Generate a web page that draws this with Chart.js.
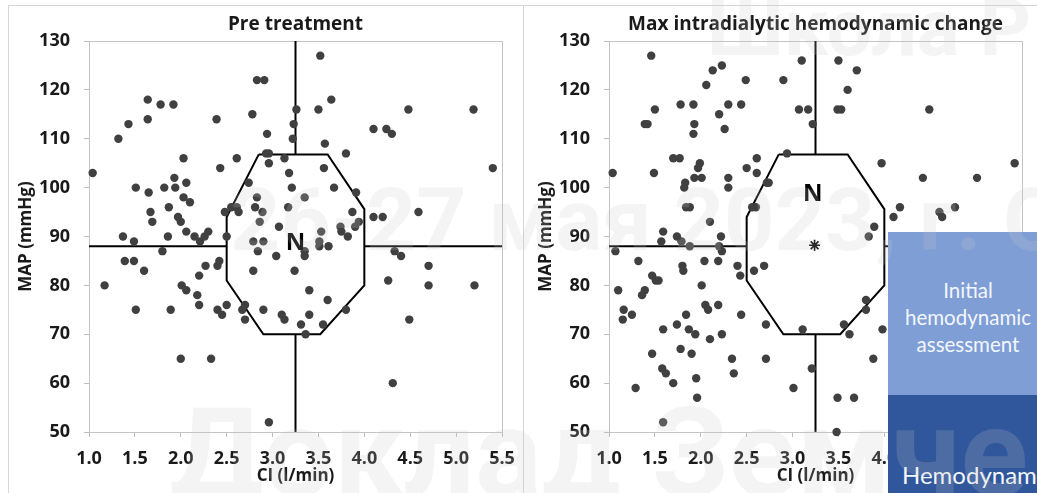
<!DOCTYPE html>
<html>
<head>
<meta charset="utf-8">
<script src="https://cdn.jsdelivr.net/npm/chart.js@4.4.1/dist/chart.umd.min.js"></script>
<style>
  body { margin: 0; width: 1037px; height: 493px; overflow: hidden; position: relative; background: #fff; }
  canvas { position: absolute; top: 0; }
  .frame { position: absolute; border: 1px solid #d6d6d6; }
  .box { position: absolute; left: 888px; width: 160px; color: #f3f6fb; font-family: Lato, sans-serif; text-align: center; }
  .mark { position: absolute; font-family: Roboto, sans-serif; font-weight: 700; line-height: 1; white-space: nowrap; color: rgba(200, 200, 200, 0.2); pointer-events: none; }
</style>
</head>
<body>
<div class="frame" style="left:8px; top:5px; width:514px; height:600px;"></div>
<div class="frame" style="left:523px; top:5px; width:600px; height:600px; border-left:none;"></div>
<canvas id="pre" width="520" height="493" style="left:0"></canvas>
<canvas id="max" width="520" height="493" style="left:520px"></canvas>

<div class="box" style="top:232px; height:163px; background:#7f9ed6;">
  <div style="font-size:20.5px; line-height:27px; padding-top:45px;">Initial<br>hemodynamic<br>assessment</div>
</div>
<div class="box" style="top:395px; height:120px; background:#30569b; text-align:left;">
  <div style="font-size:24px; line-height:27px; padding-top:66px; padding-left:14px; white-space:nowrap;">Hemodynamic</div>
</div>

<div class="mark" style="left:707px; top:-12px; font-size:80px;">Школа Р</div>
<div class="mark" style="left:230px; top:176px; font-size:88px;">26-27 мая 2023, г. С</div>
<div class="mark" style="left:170px; top:391px; font-size:125px;">Доклад Земче</div>

<script>
// axis ticks
const xTickValues = [1.0, 1.5, 2.0, 2.5, 3.0, 3.5, 4.0, 4.5, 5.0, 5.5];
const yTickValues = [50, 60, 70, 80, 90, 100, 110, 120, 130];

// pre treatment: CI (l/min) and MAP (mmHg)
const preCI = [
  1.04, 1.32, 1.43, 1.64, 1.64, 1.78, 1.92, 1.51, 1.65, 1.67, 1.69, 1.37, 1.49, 1.82, 1.94, 1.93,
  2.03, 2.06, 2.03, 2.10, 1.87, 1.97, 2.00, 1.86, 2.06, 2.15, 2.21, 2.26, 2.30, 2.39, 2.43, 2.48,
  2.55, 2.61, 2.63, 2.50, 2.61, 2.74, 2.78, 2.83, 2.91, 2.94, 2.93, 2.96, 2.96, 2.83, 2.81, 2.89,
  2.86, 3.07, 3.13, 3.18, 3.21, 3.17, 3.23, 3.22, 3.26, 3.50, 3.52, 3.64, 3.57, 3.56, 3.35, 3.67,
  3.80, 3.91, 3.87, 3.94, 3.90, 3.74, 3.82, 3.53, 3.75, 3.51, 3.61, 3.51, 4.10, 4.24, 4.30, 4.10,
  4.20, 4.48, 4.59, 5.19, 5.40, 2.79, 2.90, 2.84, 1.80,
  1.17, 1.39, 1.49, 1.60, 1.51, 1.89, 2.01, 2.06, 2.18, 2.20, 2.20, 2.27, 2.40, 2.42, 2.40, 2.45,
  2.50, 2.00, 2.33, 2.67, 2.70, 2.70, 2.79, 2.90, 3.04, 3.24, 3.10, 3.13, 3.31, 3.36, 3.40, 3.40,
  3.35, 3.35, 3.55, 3.60, 3.80, 4.33, 4.40, 4.26, 4.49, 4.70, 4.70, 5.20, 4.31, 2.96
];
const preMAP = [
  103, 110, 113, 118, 114, 117, 117, 100, 99, 95, 93, 90, 89, 100, 100, 102,
  106, 101, 98, 97, 96, 94, 93, 90, 91, 90, 89, 90, 91, 114, 104, 95,
  96, 96, 95, 90, 106, 101, 115, 122, 122, 111, 107, 107, 105, 98, 96, 95,
  93, 92, 106, 103, 100, 96, 113, 110, 116, 116, 127, 118, 109, 104, 98, 100,
  107, 99, 95, 93, 92, 92, 90, 91, 91, 89, 88, 88, 112, 112, 111, 94,
  94, 116, 95, 116, 104, 89, 89, 87, 87,
  80, 85, 85, 83, 75, 75, 80, 79, 78, 82, 76, 84, 84, 85, 75, 74,
  76, 65, 65, 75, 76, 73, 83, 75, 86, 83, 74, 73, 72, 70, 74, 79,
  87, 86, 72, 77, 75, 87, 86, 81, 73, 84, 80, 80, 60, 52
];

// max intradialytic hemodynamic change
const maxCI = [
  1.04, 1.46, 2.13, 2.23, 2.06, 2.49, 2.90, 3.10, 1.50, 1.39, 1.42, 1.78, 1.92, 1.93, 1.92, 2.20,
  2.26, 2.30, 2.44, 3.07, 3.17, 3.22, 2.94, 1.49, 1.70, 1.77, 1.99, 1.97, 1.93, 2.01, 1.83, 1.82,
  2.30, 2.30, 2.50, 2.61, 2.61, 2.72, 2.74, 1.84, 1.88, 2.56, 2.60, 2.10, 1.59, 1.57, 1.74, 1.79,
  1.88, 2.22, 2.20, 2.23, 1.07, 3.50, 3.70, 3.60, 3.49, 3.53, 4.49, 3.97, 5.42, 4.42, 5.01, 4.17,
  4.10, 4.60, 4.63, 4.77, 3.89, 3.83,
  1.32, 1.10, 1.16, 1.15, 1.25, 1.29, 1.39, 1.36, 1.47, 1.51, 1.54, 1.47, 1.59, 1.58, 1.62, 1.70,
  1.59, 1.74, 1.78, 1.80, 1.81, 1.84, 1.87, 1.94, 1.90, 1.95, 1.96, 2.01, 2.04, 2.19, 2.05, 2.08,
  2.10, 2.19, 2.23, 2.34, 2.36, 2.40, 2.43, 2.44, 2.58, 2.69, 2.71, 2.71, 3.01, 3.11, 3.21, 3.80,
  3.80, 3.56, 3.62, 3.88, 3.49, 3.67, 3.48, 3.98
];
const maxMAP = [
  103, 127, 124, 125, 121, 122, 122, 126, 116, 113, 113, 117, 117, 113, 111, 115,
  112, 117, 117, 116, 116, 113, 107, 103, 106, 106, 105, 104, 102, 102, 101, 100,
  102, 100, 104, 106, 103, 101, 101, 96, 96, 96, 96, 93, 91, 89, 90, 89,
  88, 90, 88, 87, 87, 126, 124, 120, 116, 116, 116, 105, 105, 102, 102, 96,
  94, 95, 94, 96, 92, 90,
  85, 79, 75, 73, 74, 59, 79, 78, 82, 81, 81, 66, 71, 63, 62, 60,
  52, 72, 67, 84, 83, 74, 71, 70, 66, 61, 57, 80, 85, 85, 76, 75,
  69, 76, 70, 65, 62, 84, 82, 74, 83, 84, 72, 65, 59, 71, 63, 77,
  75, 72, 70, 65, 57, 57, 50, 71
];

// normal zone (octagon) and the dividing cross
const zoneCI = [2.85, 3.6, 4.0, 4.0, 3.52, 2.9, 2.5, 2.5, 2.85];
const zoneMAP = [106.8, 106.8, 95.6, 80, 70, 70, 81, 94, 106.8];
const crossCI = 3.25;
const crossMAP = 88;

const pts = (xs, ys) => xs.map((x, i) => ({ x: x, y: ys[i] }));

const tickFont = { family: 'Open Sans', size: 18, weight: 'bold' };
const axisFont = { family: 'Open Sans', size: 17, weight: 'bold' };
const ink = '#1a1a1a';

const plotFrame = {
  id: 'plotFrame',
  beforeDatasetsDraw(chart) {
    const { ctx, chartArea: a } = chart;
    ctx.save();
    ctx.strokeStyle = '#c4c4c4';
    ctx.lineWidth = 1;
    ctx.strokeRect(Math.round(a.left) + 0.5, Math.round(a.top) + 0.5, Math.round(a.width), Math.round(a.height));
    ctx.restore();
  }
};

const zoneLabel = {
  id: 'zoneLabel',
  afterDatasetsDraw(chart, args, opts) {
    const { ctx, scales } = chart;
    ctx.save();
    ctx.font = 'bold 24px "Open Sans"';
    ctx.fillStyle = '#000';
    ctx.textAlign = 'center';
    ctx.textBaseline = 'alphabetic';
    ctx.fillText(opts.text, scales.x.getPixelForValue(opts.x), scales.y.getPixelForValue(opts.y));
    ctx.restore();
  }
};

function buildChart(id, title, ci, map, label, star) {
  const line = { showLine: true, borderColor: '#000', borderWidth: 2, pointRadius: 0, fill: false, clip: false, order: 2 };
  const datasets = [
    { data: pts(ci, map), backgroundColor: '#404040', pointRadius: 4.2, pointBorderWidth: 0, clip: false, order: 0 },
    Object.assign({ data: pts(zoneCI, zoneMAP) }, line),
    Object.assign({ data: [{ x: xTickValues[0], y: crossMAP }, { x: zoneCI[6], y: crossMAP }] }, line),
    Object.assign({ data: [{ x: zoneCI[2], y: crossMAP }, { x: xTickValues[xTickValues.length - 1], y: crossMAP }] }, line),
    Object.assign({ data: [{ x: crossCI, y: zoneMAP[0] }, { x: crossCI, y: yTickValues[yTickValues.length - 1] }] }, line),
    Object.assign({ data: [{ x: crossCI, y: yTickValues[0] }, { x: crossCI, y: zoneMAP[4] }] }, line)
  ];
  if (star) {
    datasets.push({ data: [star], pointStyle: 'star', pointRadius: 5.5, borderColor: '#000', pointBorderWidth: 1.6, clip: false, order: 0 });
  }

  return new Chart(document.getElementById(id), {
    type: 'scatter',
    data: { datasets: datasets },
    plugins: [plotFrame, zoneLabel],
    options: {
      responsive: false,
      animation: false,
      devicePixelRatio: 1,
      layout: { padding: { left: 0, right: 18, top: 0, bottom: 0 } },
      plugins: {
        legend: { display: false },
        tooltip: { enabled: false },
        title: {
          display: true, text: title, fullSize: false, color: ink,
          font: { family: 'Open Sans', size: 19, weight: 'bold' },
          padding: { top: 13, bottom: 5.2 }
        },
        zoneLabel: label
      },
      scales: {
        x: {
          type: 'linear', min: xTickValues[0], max: xTickValues[xTickValues.length - 1],
          afterBuildTicks: s => { s.ticks = xTickValues.map(v => ({ value: v })); },
          // fixed axis band; label overhang is covered by the layout padding
          afterFit: s => { s.height = 61; s.paddingLeft = 0; s.paddingRight = 0; },
          ticks: { callback: v => Number(v).toFixed(1), font: tickFont, color: ink, padding: 11, autoSkip: false, maxRotation: 0 },
          grid: { drawOnChartArea: false, tickLength: 5, color: '#bdbdbd' },
          border: { display: false },
          title: { display: true, text: 'CI (l/min)', font: axisFont, color: ink, padding: { top: 0, bottom: 7 } }
        },
        y: {
          type: 'linear', min: yTickValues[0], max: yTickValues[yTickValues.length - 1],
          afterBuildTicks: s => { s.ticks = yTickValues.map(v => ({ value: v })); },
          afterFit: s => { s.width = 89; s.paddingTop = 0; s.paddingBottom = 0; },
          ticks: { font: tickFont, color: ink, padding: 14 },
          grid: { drawOnChartArea: false, tickLength: 5, color: '#bdbdbd' },
          border: { display: false },
          title: { display: true, text: 'MAP (mmHg)', font: axisFont, color: ink, padding: { top: 16, bottom: 0 } }
        }
      }
    }
  });
}

buildChart('pre', 'Pre treatment', preCI, preMAP, { text: 'N', x: 3.25, y: 87.2 }, null);
buildChart('max', 'Max intradialytic hemodynamic change', maxCI, maxMAP, { text: 'N', x: 3.22, y: 97.2 }, { x: 3.24, y: 88.2 });
</script>
</body>
</html>
